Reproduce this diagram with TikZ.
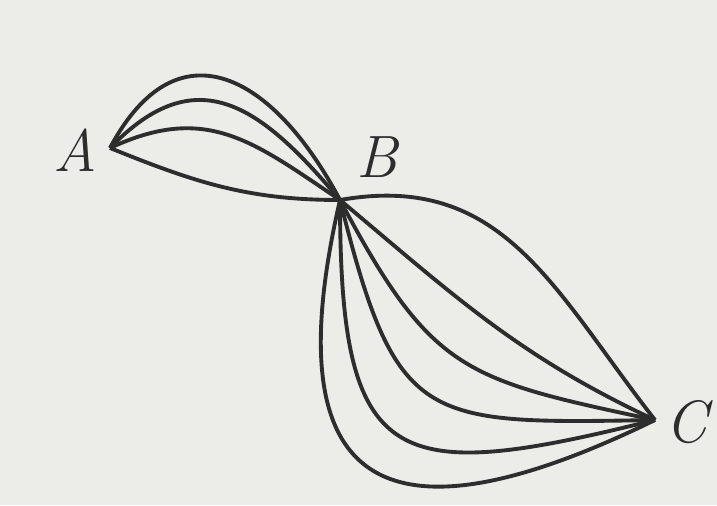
\documentclass[tikz,border=0pt]{standalone}
\definecolor{papel}{RGB}{236,236,233}
\definecolor{tinta}{RGB}{45,45,45}
\tikzset{
  camino/.style={tinta, line width=1.1pt},
  etiqueta/.style={tinta, font=\fontsize{17}{20}\selectfont\itshape}
}
\begin{document}
\begin{tikzpicture}
        % Fondo
        \fill[papel] (0, 0) rectangle (7.17, 5.05);
        \useasboundingbox (0, 0) rectangle (7.17, 5.05);

        % Puntos
        \coordinate (A) at (1.10, 3.57);
        \coordinate (B) at (3.40, 3.05);
        \coordinate (C) at (6.55, 0.85);

        % Caminos de A a B
        \draw[camino] (A) to[out=62, in=118, looseness=1.55] (B);
        \draw[camino] (A) to[out=46, in=130, looseness=1.35] (B);
        \draw[camino] (A) to[out=25, in=146, looseness=1.15] (B);
        \draw[camino] (A) to[out=-22, in=180] (B);

        % Caminos de B a C
        \draw[camino] (B) to[out=10, in=128, looseness=1.1] (C);
        \draw[camino] (B) to[out=-40, in=155] (C);
        \draw[camino] (B) to[out=-62, in=168, looseness=1.3] (C);
        \draw[camino] (B) to[out=-76, in=181, looseness=1.55] (C);
        \draw[camino] (B) to[out=-90, in=194, looseness=1.8] (C);
        \draw[camino] (B) to[out=-103, in=206, looseness=2.0] (C);

        % Etiquetas
        \node[etiqueta] (lA) at (0.75, 3.55) {A};
        \node[etiqueta] (lB) at (3.77, 3.48) {B};
        \node[etiqueta] (lC) at (6.86, 0.83) {C};
\end{tikzpicture}
\end{document}
